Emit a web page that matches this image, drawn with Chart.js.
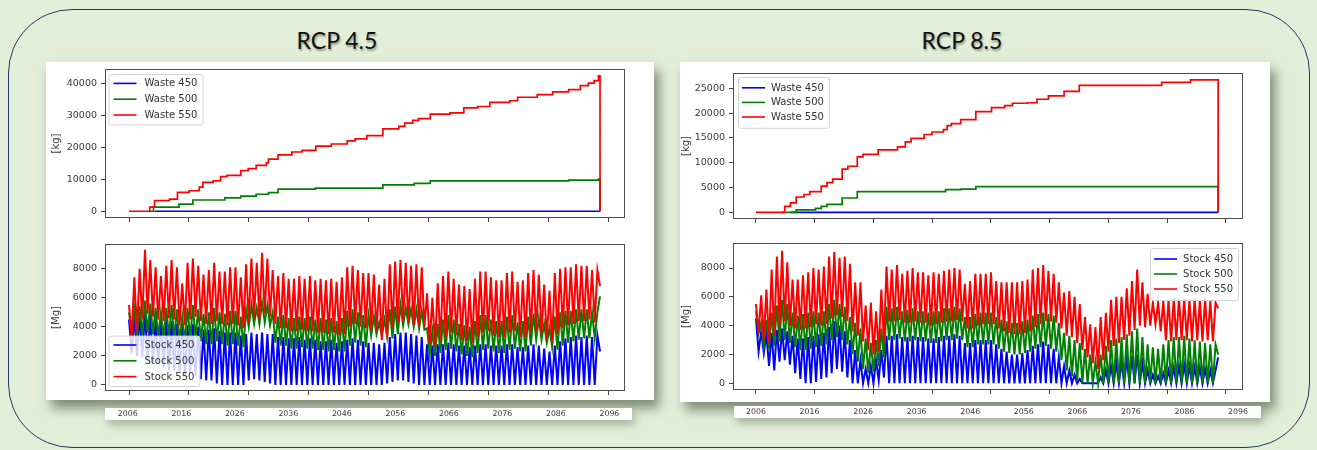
<!DOCTYPE html>
<html><head><meta charset="utf-8">
<script src="https://cdn.jsdelivr.net/npm/chart.js@4.4.1/dist/chart.umd.min.js"></script>
<style>
html,body{margin:0;padding:0;}
body{width:1317px;height:450px;background:#e3eed9;position:relative;overflow:hidden;}
#frame{position:absolute;left:8px;top:9px;width:1302px;height:439px;box-sizing:border-box;border:1.8px solid #1f3864;border-radius:64px;background:#e2eed8;}
.title{position:absolute;top:26px;width:240px;text-align:center;font-family:Lato,"Open Sans",sans-serif;font-size:23px;line-height:28px;color:#111;text-shadow:1px 2px 2px rgba(0,0,0,0.35);}
.panel{position:absolute;background:#fff;box-shadow:5px 8px 11px rgba(55,75,45,0.6);}
.strip{position:absolute;background:#fff;box-shadow:3px 5px 8px rgba(55,75,45,0.35);}
canvas{position:absolute;}
</style></head>
<body>
<div id="frame"></div>
<div class="title" style="left:217px">RCP 4.5</div>
<div class="title" style="left:842px">RCP 8.5</div>
<div class="panel" style="left:46px;top:62px;width:608px;height:338px"></div>
<div class="panel" style="left:680px;top:62px;width:590px;height:340px"></div>
<div class="strip" style="left:105px;top:408px;width:527px;height:12px"></div>
<div class="strip" style="left:734px;top:406px;width:527px;height:12px"></div>
<canvas id="cLU" width="608" height="170" style="left:46px;top:62px"></canvas>
<canvas id="cLL" width="608" height="188" style="left:46px;top:232px"></canvas>
<canvas id="cRU" width="590" height="170" style="left:680px;top:62px"></canvas>
<canvas id="cRL" width="590" height="188" style="left:680px;top:232px"></canvas>
<script>
// ---------------- DATA ----------------
const plotTickYears = [2006, 2017.25, 2028.5, 2039.75, 2051, 2062.25, 2073.5, 2084.75, 2096];
const labelYears = [2006, 2016, 2026, 2036, 2046, 2056, 2066, 2076, 2086, 2096];
const wasteTicksL = [0, 10000, 20000, 30000, 40000];
const wasteTicksR = [0, 5000, 10000, 15000, 20000, 25000];
const stockTicks = [0, 2000, 4000, 6000, 8000];

const stockYears = [2006,2007,2008,2009,2010,2011,2012,2013,2014,2015,
 2016,2017,2018,2019,2020,2021,2022,2023,2024,2025,
 2026,2027,2028,2029,2030,2031,2032,2033,2034,2035,
 2036,2037,2038,2039,2040,2041,2042,2043,2044,2045,
 2046,2047,2048,2049,2050,2051,2052,2053,2054,2055,
 2056,2057,2058,2059,2060,2061,2062,2063,2064,2065,
 2066,2067,2068,2069,2070,2071,2072,2073,2074,2075,
 2076,2077,2078,2079,2080,2081,2082,2083,2084,2085,
 2086,2087,2088,2089,2090,2091,2092,2093,2094];

// RCP 4.5 waste [kg], step change points (value holds until next point)
const wasteL450Years = [2010.8, 2094.5];
const wasteL450Vals  = [0, 0];
const wasteL500Years = [2009.9, 2010.6, 2015.4, 2018.0, 2024.0, 2027.0, 2029.9, 2032.2, 2034.0, 2041.0, 2053.7, 2059.6, 2062.6, 2088.6, 2094.2, 2094.5, 2094.5];
const wasteL500Vals  = [0, 1300, 2200, 3500, 4200, 4700, 5300, 5800, 6900, 7200, 8200, 8700, 9500, 9700, 10000, 10000, 0];
const wasteL550Years = [2006, 2009.9, 2010.8, 2013.6, 2015.1, 2017.3, 2019.2, 2019.9, 2021.8, 2023.2, 2024.4, 2027.0, 2028.4, 2029.9, 2031.8, 2032.2, 2034.0, 2036.6, 2038.5, 2041.1, 2044.0, 2047.0, 2048.5, 2050.7, 2053.7, 2056.7, 2057.8, 2059.3, 2060.4, 2062.6, 2066.3, 2068.9, 2071.5, 2073.8, 2077.5, 2079.0, 2082.7, 2085.6, 2088.6, 2090.8, 2092.3, 2093.4, 2094.2, 2094.5, 2094.5];
const wasteL550Vals  = [0, 1250, 3300, 3800, 5900, 6400, 7500, 9000, 9500, 10800, 11200, 12700, 13300, 14300, 15100, 16300, 17600, 18500, 19000, 20300, 21000, 22000, 22600, 23600, 25700, 26500, 27500, 28400, 28900, 30300, 30700, 32300, 32700, 34000, 34500, 35600, 36400, 37300, 38000, 39200, 40000, 40800, 42300, 42300, 0];

// RCP 8.5 waste [kg]
const wasteR450Years = [2012.6, 2094.5];
const wasteR450Vals  = [0, 0];
const wasteR500Years = [2010.8, 2013.7, 2017.4, 2018.5, 2019.6, 2022.5, 2025.4, 2042.3, 2045.2, 2048.1, 2094.5, 2094.5];
const wasteR500Vals  = [0, 500, 800, 1200, 1600, 2900, 4200, 4600, 4700, 5200, 5200, 0];
const wasteR550Years = [2006, 2011.5, 2012.6, 2013.7, 2015.2, 2016.3, 2018.5, 2019.6, 2020.7, 2022.5, 2023.6, 2025.4, 2026.5, 2029.4, 2033.1, 2034.6, 2035.7, 2038.2, 2039.7, 2041.9, 2042.6, 2043.4, 2045.2, 2048.1, 2051.1, 2053.6, 2055.1, 2058.0, 2059.8, 2062.0, 2065.0, 2067.9, 2083.7, 2089.2, 2094.5, 2094.5];
const wasteR550Vals  = [0, 1200, 1900, 3100, 3600, 4200, 5300, 6000, 6700, 8700, 9300, 11200, 11700, 12600, 13200, 14200, 14900, 15700, 16200, 16700, 17500, 17900, 18700, 20300, 21100, 21500, 22000, 22100, 22800, 23500, 24400, 25600, 26200, 26700, 26700, 0];

// RCP 4.5 stock [Mg]: yearly peak and trough
const stockL450Peak = [4500,4700,4900,5000,4800,4500,4400,4500,4400,4200,
 4000,4100,4200,4000,3800,3800,3900,3700,3600,3600,
 3600,3400,3500,3600,3500,3600,3500,3500,3300,3300,
 3200,3200,3300,3100,3200,3100,3000,3000,3100,2900,
 3000,3100,3200,3100,3000,2900,2900,2800,2900,3300,
 3500,3600,3600,3500,3400,3300,2800,2700,2800,2800,
 2900,2800,2700,2700,2600,2700,2800,2800,2700,2700,
 2700,2800,2800,2600,2600,2700,2800,2700,2500,2300,
 2700,3000,3200,3300,3400,3300,3400,3300,3400];
const stockL450Trough = [2200,2000,1900,1700,1500,1400,1200,1000,1000,800,
 700,800,600,400,300,300,100,0,0,0,
 0,0,300,400,300,200,100,0,0,0,
 0,0,0,0,0,0,0,0,0,0,
 0,0,0,0,0,0,0,0,100,200,
 300,300,200,100,0,0,0,0,0,0,
 0,0,0,0,0,0,0,0,0,0,
 0,0,0,0,0,0,0,0,0,0,
 0,0,0,0,0,0,0,0,2300];
const stockL500Peak = [5000,5200,5400,5800,5600,5300,5000,5300,5500,5200,
 4700,5300,5500,5200,4900,5000,5300,5000,4900,5100,
 5100,4700,5200,5500,5300,5700,5500,5000,4700,4800,
 4600,4600,4700,4600,4700,4500,4600,4500,4600,4400,
 4600,5100,5200,5000,4800,4800,4700,4300,4500,5200,
 5400,5500,5300,5200,5200,5100,3900,3700,4200,4500,
 4800,4500,4200,4100,4000,4400,4800,4800,4500,4400,
 4400,4700,4800,4300,4400,4700,4900,4600,4200,3900,
 4700,5000,5100,5100,5200,5200,5200,5000,5000];
const stockL500Trough = [3600,3300,3400,3600,3500,3300,3200,3300,3200,3000,
 2900,3100,3200,3000,2800,2800,3000,2800,2700,2800,
 2700,2600,4000,4200,4200,4300,4100,2900,2700,2700,
 2500,2500,2600,2500,2500,2400,2400,2300,2400,2300,
 2300,2700,2900,2700,2600,3400,3500,3400,3300,3200,
 3500,4100,4200,4000,3900,3800,2100,2000,2200,2400,
 2500,2300,2100,2000,1900,2200,2400,2500,2300,2200,
 2200,2400,2500,2300,2300,2700,3100,3100,2900,2600,
 2400,2700,2900,3000,3100,3200,3200,3200,6100];
const stockL550Peak = [5500,7400,8000,9300,8600,8100,7500,8200,8600,8100,
 7000,8400,8700,8200,7600,7900,8400,7800,7800,8100,
 8100,7400,8300,8700,8400,9100,8700,7900,7500,7700,
 7300,7300,7500,7300,7500,7200,7300,7200,7300,7100,
 7400,8100,8200,7900,7700,7700,7600,6900,7300,8300,
 8500,8600,8400,8200,8300,8100,6300,6000,7000,7500,
 7800,7300,6900,6800,6600,7300,7800,7800,7400,7200,
 7200,7700,7800,7100,7200,7700,7900,7600,6900,6500,
 7700,8000,8100,8100,8300,8200,8200,7900,7900];
const stockL550Trough = [3300,3700,4500,4900,4700,4500,4400,4600,4500,4100,
 4100,4500,4700,4400,4200,4200,4400,4200,4100,4200,
 4100,3900,4300,4600,4500,4900,4700,4200,3900,3900,
 3700,3700,3800,3700,3700,3600,3600,3500,3600,3400,
 3500,4000,4200,4000,3900,3800,3700,3100,3300,4000,
 4300,4400,4300,4100,4100,4000,2800,2700,3000,3300,
 3600,3400,3100,3000,2900,3300,3600,3700,3400,3300,
 3300,3600,3700,3300,3300,3600,3700,3500,3100,2800,
 3500,3900,4100,4200,4400,4400,4500,4300,6800];

// RCP 8.5 stock [Mg]
const stockR450Peak = [4500,3600,3400,3500,3700,3800,3600,3300,3100,3100,
 3200,3300,3400,3500,3900,4300,4000,3600,3000,2300,
 1600,1000,1200,1600,2300,3300,3300,3400,3200,3200,
 3300,3200,3200,3100,3100,3200,3300,3300,3400,3300,
 2800,2800,3000,3000,3000,3000,2700,2400,2200,2000,
 2000,2100,2300,2600,2700,2900,2700,2400,1800,1200,
 900,600,300,0,0,0,400,900,1200,1400,
 1500,1700,1900,2000,1400,900,600,500,700,900,
 1100,1200,1300,1200,1100,1100,1000,900,900];
const stockR450Trough = [2200,2100,1200,900,1500,1600,1300,700,300,0,
 0,100,300,400,700,1000,800,400,0,0,
 0,0,0,200,400,0,0,0,0,0,
 0,0,0,0,0,0,0,0,0,0,
 0,0,0,0,0,0,0,0,0,0,
 0,0,0,0,0,0,0,0,0,0,
 0,0,0,0,0,0,0,0,0,0,
 0,0,0,0,0,0,0,0,0,0,
 0,0,0,0,0,0,0,0,1800];
const stockR500Peak = [5000,4200,4400,4900,5400,5800,5500,4900,4700,4800,
 4900,5000,4900,5000,5500,5800,5500,5300,4600,4200,
 3800,3100,2800,3000,3800,5300,5200,5300,5000,5100,
 5200,5000,5000,4900,5000,5000,5200,5200,5300,5200,
 4600,4600,4800,4900,4900,4900,4600,4400,4300,4200,
 4200,4300,4400,4700,4800,4900,4800,4700,4200,3500,
 3300,3000,2800,2400,2000,1500,2000,2600,3000,3100,
 3200,3400,3600,3800,3200,2700,2500,2400,2700,3000,
 3200,3200,3300,3100,3000,2900,2800,2700,2700];
const stockR500Trough = [3500,2600,2400,2600,2900,3000,2800,2500,2300,2300,
 2400,2500,2600,2700,3000,3200,3000,2700,2000,1500,
 1000,700,800,1200,1800,3000,3000,3100,2900,2900,
 3000,2900,2900,2800,2800,2900,3000,3000,3100,3000,
 2500,2500,2700,2700,2700,2700,2400,2200,2100,2000,
 2000,2100,2200,2400,2500,2600,2400,2200,1600,900,
 500,200,0,0,0,0,0,0,0,0,
 0,0,0,0,0,0,0,0,0,0,
 0,0,0,0,0,0,0,0,2000];
const stockR550Peak = [5500,6100,6500,7900,8800,9200,8400,7200,7200,7500,
 7700,8000,7900,8100,8800,9100,8700,8800,8300,7000,
 7000,5400,5600,5000,6500,8100,7900,8200,7600,7800,
 8000,7700,7700,7500,7700,7600,7800,7900,8000,7900,
 6900,7100,7600,7600,7600,7700,7100,7000,7000,7000,
 7000,7100,7200,7900,8000,8200,7800,7600,7000,6300,
 6400,6000,5500,4600,4100,3900,4600,4900,5800,6000,
 6000,6600,7100,7900,7000,6200,5600,5600,5700,5800,
 5900,5900,5900,5800,5900,5800,5900,5700,5600];
const stockR550Trough = [3500,3000,2800,3300,4000,4300,4000,3800,3700,3800,
 3900,4100,4000,4100,4500,4700,4600,4300,3600,3300,
 2900,2300,2000,2200,2900,4300,4300,4400,4200,4200,
 4300,4200,4200,4000,4100,4200,4300,4300,4400,4300,
 3800,3800,4000,4100,4100,4100,3800,3600,3500,3400,
 3400,3500,3600,3900,4100,4300,4300,4200,3800,3300,
 3200,2800,2300,1800,1400,1000,1600,2200,2600,2800,
 3000,3300,3700,4000,3900,4000,4100,3600,3000,2900,
 3000,3000,3000,2900,3000,2900,3000,2900,5200];

// ---------------- HELPERS ----------------
const BLUE = '#0000ff', GREEN = '#008000', RED = '#ff0000';
const FONT = '"DejaVu Sans", sans-serif';

function stepPoints(xs, ys) { return xs.map((x, i) => ({x: x, y: ys[i]})); }
function zigzag(peaks, troughs) {
  const pts = [];
  stockYears.forEach((yr, i) => { pts.push({x: yr, y: peaks[i]}); pts.push({x: yr + 0.5, y: troughs[i]}); });
  return pts;
}

const axesFrame = {
  id: 'axesFrame',
  afterDraw(chart) {
    const {ctx, chartArea: a} = chart;
    ctx.save();
    ctx.strokeStyle = '#4d4d4d'; ctx.lineWidth = 1;
    ctx.strokeRect(Math.round(a.left) + 0.5, Math.round(a.top) + 0.5, Math.round(a.right - a.left) - 1, Math.round(a.bottom - a.top) - 1);
    ctx.restore();
  }
};
const boxLegend = {
  id: 'boxLegend',
  afterDatasetsDraw(chart, args, o) {
    const {ctx, chartArea: a} = chart;
    const ds = chart.data.datasets;
    ctx.save();
    ctx.font = o.fontSize + 'px ' + FONT;
    const tw = Math.max(...ds.map(d => ctx.measureText(d.label).width));
    const w = o.padL + o.lineLen + o.gap + tw + o.padR;
    const h = o.padY * 2 + ds.length * o.rowH;
    const x = o.pos.includes('r') ? a.right - o.mx - w : a.left + o.mx;
    const y = o.pos.includes('b') ? a.bottom - o.my - h : a.top + o.my;
    ctx.beginPath();
    ctx.roundRect(x + 0.5, y + 0.5, w, h, 2.5);
    ctx.fillStyle = 'rgba(255,255,255,0.82)'; ctx.fill();
    ctx.strokeStyle = '#d4d4d4'; ctx.lineWidth = 1; ctx.stroke();
    ds.forEach((d, i) => {
      const cy = y + o.padY + o.rowH * (i + 0.5);
      ctx.beginPath(); ctx.strokeStyle = d.borderColor; ctx.lineWidth = 1.6;
      ctx.moveTo(x + o.padL, cy); ctx.lineTo(x + o.padL + o.lineLen, cy); ctx.stroke();
      ctx.fillStyle = '#333'; ctx.textBaseline = 'middle'; ctx.textAlign = 'left';
      ctx.fillText(d.label, x + o.padL + o.lineLen + o.gap, cy + 0.5);
    });
    ctx.restore();
  }
};

function makeChart(id, c) {
  const scales = {
    x: {
      type: 'linear', position: 'bottom', weight: 0, min: c.xmin, max: c.xmax,
      afterBuildTicks: s => { s.ticks = plotTickYears.map(v => ({value: v})); },
      ticks: {display: false, autoSkip: false},
      grid: {display: true, drawOnChartArea: false, drawTicks: true, tickLength: 4, color: '#444', lineWidth: 1},
      border: {display: false},
      afterFit: s => { s.height = c.xh; s.paddingLeft = 0; s.paddingRight = 0; }
    },
    y: {
      type: 'linear', position: 'left', min: c.ymin, max: c.ymax,
      afterBuildTicks: s => { s.ticks = c.yticks.map(v => ({value: v})); },
      ticks: {autoSkip: false, font: {size: 9.5, family: FONT}, color: '#3a3a3a', padding: 4, callback: v => String(v)},
      grid: {display: true, drawOnChartArea: false, drawTicks: true, tickLength: 4, color: '#444', lineWidth: 1},
      border: {display: false},
      title: {display: true, text: c.ytitle, font: {size: 10, family: FONT}, color: '#3a3a3a', padding: {top: c.tpad, bottom: 0}},
      afterFit: s => { s.width = c.yw; s.paddingTop = 0; s.paddingBottom = 0; }
    }
  };
  if (c.labels) {
    scales.xl = {
      type: 'linear', position: 'bottom', weight: 1, min: c.lmin, max: c.lmax,
      afterBuildTicks: s => { s.ticks = labelYears.map(v => ({value: v})); },
      ticks: {autoSkip: false, maxRotation: 0, minRotation: 0, font: {size: 7.8, family: FONT}, color: '#333', padding: c.lpad, callback: v => String(v)},
      grid: {display: false, drawTicks: false},
      border: {display: false},
      afterFit: s => { s.height = c.lh; s.paddingLeft = 0; s.paddingRight = 0; }
    };
  }
  return new Chart(document.getElementById(id), {
    type: 'line',
    data: {datasets: c.datasets.map(d => Object.assign({
      borderWidth: c.lw, pointRadius: 0, fill: false, tension: 0, xAxisID: 'x', yAxisID: 'y'
    }, d))},
    options: {
      responsive: false, animation: false, devicePixelRatio: 1,
      layout: {padding: {left: 0, top: c.pt, right: c.pr, bottom: 0}},
      plugins: {legend: {display: false}, tooltip: {enabled: false}, boxLegend: c.legend},
      scales: scales
    },
    plugins: [axesFrame, boxLegend]
  });
}

const legL = {fontSize: 10, rowH: 15.8, padY: 1.5, padL: 5, lineLen: 23, gap: 8, padR: 5, mx: 3.5, my: 5};
const legR = {fontSize: 10, rowH: 14.6, padY: 3.5, padL: 4, lineLen: 23, gap: 6, padR: 5, mx: 5, my: 4};

makeChart('cLU', {
  xmin: 2001.49, xmax: 2099.19, xh: 14, ymin: -2115, ymax: 44415, yticks: wasteTicksL,
  ytitle: '[kg]', tpad: 4, yw: 59, pt: 7, pr: 29, lw: 1.7,
  legend: Object.assign({pos: 'tl'}, legL),
  datasets: [
    {label: 'Waste 450', data: stepPoints(wasteL450Years, wasteL450Vals), borderColor: BLUE, stepped: 'before', order: 2},
    {label: 'Waste 500', data: stepPoints(wasteL500Years, wasteL500Vals), borderColor: GREEN, stepped: 'before', order: 1},
    {label: 'Waste 550', data: stepPoints(wasteL550Years, wasteL550Vals), borderColor: RED, stepped: 'before', order: 0}
  ]
});
makeChart('cLL', {
  xmin: 2001.49, xmax: 2099.19, xh: 6, ymin: -420, ymax: 9700, yticks: stockTicks,
  ytitle: '[Mg]', tpad: 4, yw: 59, pt: 12, pr: 29, lw: 2,
  labels: true, lmin: 2001.74, lmax: 2098.92, lh: 23, lpad: 12,
  legend: Object.assign({pos: 'bl'}, legL),
  datasets: [
    {label: 'Stock 450', data: zigzag(stockL450Peak, stockL450Trough), borderColor: BLUE, order: 2},
    {label: 'Stock 500', data: zigzag(stockL500Peak, stockL500Trough), borderColor: GREEN, order: 1},
    {label: 'Stock 550', data: zigzag(stockL550Peak, stockL550Trough), borderColor: RED, order: 0}
  ]
});
makeChart('cRU', {
  xmin: 2001.60, xmax: 2099.26, xh: 13, ymin: -1338, ymax: 28097, yticks: wasteTicksR,
  ytitle: '[kg]', tpad: 0, yw: 53, pt: 11, pr: 27, lw: 1.7,
  legend: Object.assign({pos: 'tl'}, legR),
  datasets: [
    {label: 'Waste 450', data: stepPoints(wasteR450Years, wasteR450Vals), borderColor: BLUE, stepped: 'before', order: 2},
    {label: 'Waste 500', data: stepPoints(wasteR500Years, wasteR500Vals), borderColor: GREEN, stepped: 'before', order: 1},
    {label: 'Waste 550', data: stepPoints(wasteR550Years, wasteR550Vals), borderColor: RED, stepped: 'before', order: 0}
  ]
});
makeChart('cRL', {
  xmin: 2001.60, xmax: 2099.26, xh: 6, ymin: -465, ymax: 9735, yticks: stockTicks,
  ytitle: '[Mg]', tpad: 0, yw: 53, pt: 11, pr: 27, lw: 2,
  labels: true, lmin: 2001.71, lmax: 2096.93, lh: 24, lpad: 11,
  legend: Object.assign({pos: 'tr'}, legR, {rowH: 15, my: 5}),
  datasets: [
    {label: 'Stock 450', data: zigzag(stockR450Peak, stockR450Trough), borderColor: BLUE, order: 2},
    {label: 'Stock 500', data: zigzag(stockR500Peak, stockR500Trough), borderColor: GREEN, order: 1},
    {label: 'Stock 550', data: zigzag(stockR550Peak, stockR550Trough), borderColor: RED, order: 0}
  ]
});
</script>
</body></html>
